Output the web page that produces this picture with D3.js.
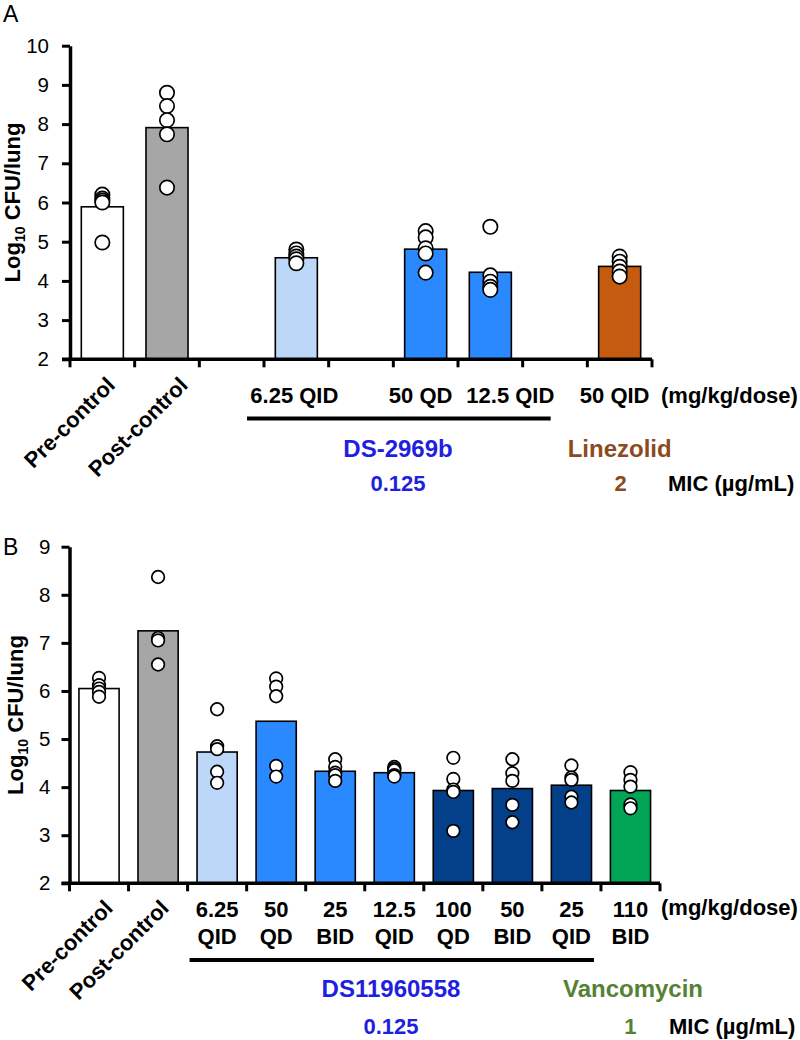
<!DOCTYPE html>
<html>
<head>
<meta charset="utf-8">
<script src="https://cdn.jsdelivr.net/npm/d3@7"></script>
<style>
  body { margin: 0; background: #fff; }
  svg { display: block; font-family: "Liberation Sans", Arial, sans-serif; }
</style>
</head>
<body>
<svg id="chart" width="800" height="1040"></svg>
<script>
// ---------------- DATA ----------------
// Panel A
const categoriesA = ["Pre-control", "Post-control", "gapA1", "6.25 QID", "gapA2", "50 QD", "12.5 QID", "gapA3", "50 QID"];
const meansA = [5.89, 7.91, null, 4.59, null, 4.81, 4.22, null, 4.37];
const pointsA = [
  [6.2, 6.1, 6.05, 6.0, 4.98],
  [8.8, 8.46, 8.1, 7.74, 6.38],
  [],
  [4.8, 4.7, 4.62, 4.55, 4.45],
  [],
  [5.27, 5.11, 4.83, 4.7, 4.21],
  [5.38, 4.14, 3.98, 3.85, 3.77],
  [],
  [4.62, 4.49, 4.36, 4.24, 4.11]
];
const doseLabelsA = [null, null, null, "6.25 QID", null, "50 QD", "12.5 QID", null, "50 QID"];
const yTicksA = [2, 3, 4, 5, 6, 7, 8, 9, 10];

// Panel B
const categoriesB = ["Pre-control", "Post-control", "6.25 QID", "50 QD", "25 BID", "12.5 QID", "100 QD", "50 BID", "25 QID", "110 BID"];
const meansB = [6.05, 7.25, 4.73, 5.37, 4.33, 4.30, 3.93, 3.97, 4.04, 3.93];
const pointsB = [
  [6.27, 6.12, 6.05, 5.98, 5.88],
  [8.37, 7.1, 7.05, 6.55],
  [5.62, 4.85, 4.79, 4.32, 4.09],
  [6.26, 6.09, 5.89, 4.44, 4.22],
  [4.58, 4.42, 4.3, 4.25, 4.13],
  [4.42, 4.38, 4.35, 4.25, 4.22],
  [4.61, 4.17, 3.95, 3.9, 3.09],
  [4.58, 4.29, 4.13, 3.63, 3.27],
  [4.45, 4.2, 4.15, 3.8, 3.68],
  [4.31, 4.15, 4.01, 3.64, 3.56]
];
const doseLine1B = [null, null, "6.25", "50", "25", "12.5", "100", "50", "25", "110"];
const doseLine2B = [null, null, "QID", "QD", "BID", "QID", "QD", "BID", "QID", "BID"];
const yTicksB = [2, 3, 4, 5, 6, 7, 8, 9];

const compoundA = { name: "DS-2969b", mic: "0.125" };
const comparatorA = { name: "Linezolid", mic: "2" };
const compoundB = { name: "DS11960558", mic: "0.125" };
const comparatorB = { name: "Vancomycin", mic: "1" };

// ---------------- STYLES ----------------
const C_WHITE = "#ffffff", C_GRAY = "#a6a6a6", C_LIGHT = "#bdd7f8", C_MID = "#2a89fe",
      C_DARK = "#04408a", C_GREEN = "#02a556", C_ORANGE = "#c55a11";
const colorsA = [C_WHITE, C_GRAY, null, C_LIGHT, null, C_MID, C_MID, null, C_ORANGE];
const colorsB = [C_WHITE, C_GRAY, C_LIGHT, C_MID, C_MID, C_MID, C_DARK, C_DARK, C_DARK, C_GREEN];
const TXT_BLUE = "#1f1fe0", TXT_BROWN = "#8c4a1e", TXT_GREEN = "#548235";
const doseLabelShiftA = [0, 0, 0, -2, 0, -5, 20, 0, -5];
const FS = 22, FS_NAME = 24;

const svg = d3.select("#chart");

function panel(opts) {
  const g = svg.append("g");
  const x = d3.scaleBand().domain(opts.cats).range(opts.xRange).paddingInner(0).paddingOuter(0);
  const y = d3.scaleLinear().domain(opts.yDomain).range(opts.yRange);
  const bw = x.bandwidth();
  const barW = bw * opts.barFrac;

  const data = opts.cats.map((c, i) => ({ c, i, mean: opts.means[i], pts: opts.points[i], color: opts.colors[i] }));

  // bars
  g.selectAll("rect.bar").data(data.filter(d => d.mean != null)).join("rect")
    .attr("class", "bar")
    .attr("x", d => x(d.c) + (bw - barW) / 2)
    .attr("width", barW)
    .attr("y", d => y(d.mean))
    .attr("height", d => y(opts.yDomain[0]) - y(d.mean))
    .attr("fill", d => d.color)
    .attr("stroke", "#000")
    .attr("stroke-width", 1.6);

  // points
  const pts = [];
  data.forEach(d => d.pts.forEach(v => pts.push({ c: d.c, v })));
  g.selectAll("circle.pt").data(pts).join("circle")
    .attr("class", "pt")
    .attr("cx", d => x(d.c) + bw / 2)
    .attr("cy", d => y(d.v))
    .attr("r", opts.r)
    .attr("fill", "#fff")
    .attr("stroke", "#000")
    .attr("stroke-width", 1.7);

  // y axis
  const yAxis = g.append("g")
    .attr("transform", `translate(${opts.xRange[0]},0)`)
    .call(d3.axisLeft(y).tickValues(opts.yTicks).tickSize(8).tickSizeOuter(0).tickPadding(opts.tickPad).tickFormat(d3.format("d")));
  yAxis.select(".domain").attr("stroke-width", 3.5);
  yAxis.selectAll(".tick line").attr("stroke-width", 3);
  yAxis.selectAll(".tick text").attr("font-size", 20.5).attr("font-family", "Liberation Sans, Arial, sans-serif").attr("fill", "#000");

  // x axis: line + ticks at band boundaries
  const y0 = y(opts.yDomain[0]);
  g.append("line")
    .attr("x1", opts.xRange[0] - 8).attr("x2", opts.xRange[1])
    .attr("y1", y0).attr("y2", y0)
    .attr("stroke", "#000").attr("stroke-width", 3.5);
  const bounds = opts.cats.map(c => x(c)).concat([x.range()[1]]);
  g.selectAll("line.xt").data(bounds).join("line")
    .attr("class", "xt")
    .attr("x1", d => d).attr("x2", d => d)
    .attr("y1", y0).attr("y2", y0 + 8)
    .attr("stroke", "#000").attr("stroke-width", 3);

  // y-axis title
  const yMid = (opts.yRange[0] + opts.yRange[1]) / 2;
  const yt = g.append("text")
    .attr("transform", `translate(${opts.yTitleX},${yMid}) rotate(-90)`)
    .attr("text-anchor", "middle")
    .attr("font-size", 22).attr("font-weight", "bold");
  yt.append("tspan").text("Log");
  yt.append("tspan").attr("font-size", 14).attr("dy", 5).text("10");
  yt.append("tspan").attr("dy", -5).text(" CFU/lung");

  // rotated control labels
  ["Pre-control", "Post-control"].forEach((lab, i) => {
    const cx = x(opts.cats[i]) + bw / 2;
    g.append("text")
      .attr("transform", `translate(${cx + opts.rotDx[i]},${y0 + opts.rotDy}) rotate(-45)`)
      .attr("text-anchor", "end")
      .attr("font-size", FS).attr("font-weight", "bold")
      .text(lab);
  });

  return { g, x, y, bw, y0 };
}

function label(g, x, y, txt, opt = {}) {
  return g.append("text").attr("x", x).attr("y", y)
    .attr("text-anchor", opt.anchor || "start")
    .attr("font-size", opt.size || FS).attr("font-weight", "bold")
    .attr("fill", opt.fill || "#000").text(txt);
}

// ---------------- PANEL A ----------------
const A = panel({
  cats: categoriesA, means: meansA, points: pointsA, colors: colorsA,
  xRange: [70, 652], yDomain: [2, 10], yRange: [359.3, 45.7], yTicks: yTicksA,
  barFrac: 0.65, r: 7.2, tickPad: 13, yTitleX: 20, rotDx: [14, 22], rotDy: 27
});
svg.append("text").attr("x", 3).attr("y", 22).attr("font-size", 23).text("A");

A.g.selectAll("text.dose").data(categoriesA.map((c, i) => ({ c, lab: doseLabelsA[i], dx: doseLabelShiftA[i] })).filter(d => d.lab))
  .join("text").attr("class", "dose")
  .attr("x", d => A.x(d.c) + A.bw / 2 + d.dx)
  .attr("y", 403)
  .attr("text-anchor", "middle").attr("font-size", FS).attr("font-weight", "bold")
  .text(d => d.lab);
label(A.g, 661, 403, "(mg/kg/dose)");
A.g.append("line")
  .attr("x1", A.x("6.25 QID") - 17).attr("x2", A.x("12.5 QID") + A.bw + 28)
  .attr("y1", 418.5).attr("y2", 418.5).attr("stroke", "#000").attr("stroke-width", 4);
label(A.g, 398, 457, compoundA.name, { anchor: "middle", fill: TXT_BLUE, size: FS_NAME });
label(A.g, 398, 491, compoundA.mic, { anchor: "middle", fill: TXT_BLUE });
label(A.g, A.x("50 QID") + A.bw / 2, 457, comparatorA.name, { anchor: "middle", fill: TXT_BROWN, size: FS_NAME });
label(A.g, A.x("50 QID") + A.bw / 2 + 1, 491, comparatorA.mic, { anchor: "middle", fill: TXT_BROWN });
label(A.g, 668, 491, "MIC (µg/mL)");

// ---------------- PANEL B ----------------
const B = panel({
  cats: categoriesB, means: meansB, points: pointsB, colors: colorsB,
  xRange: [69.5, 660], yDomain: [2, 9], yRange: [883.3, 546.7], yTicks: yTicksB,
  barFrac: 0.68, r: 6.3, tickPad: 11, yTitleX: 23, rotDx: [15, 12], rotDy: 26
});
svg.append("text").attr("x", 3).attr("y", 555).attr("font-size", 23).text("B");

const doseB = categoriesB.map((c, i) => ({ c, l1: doseLine1B[i], l2: doseLine2B[i] })).filter(d => d.l1);
B.g.selectAll("text.d1").data(doseB).join("text").attr("class", "d1")
  .attr("x", d => B.x(d.c) + B.bw / 2).attr("y", 917)
  .attr("text-anchor", "middle").attr("font-size", FS).attr("font-weight", "bold").text(d => d.l1);
B.g.selectAll("text.d2").data(doseB).join("text").attr("class", "d2")
  .attr("x", d => B.x(d.c) + B.bw / 2).attr("y", 944)
  .attr("text-anchor", "middle").attr("font-size", FS).attr("font-weight", "bold").text(d => d.l2);
label(B.g, 661, 915, "(mg/kg/dose)");
B.g.append("line")
  .attr("x1", B.x("6.25 QID") + 2).attr("x2", B.x("25 QID") + B.bw - 7)
  .attr("y1", 960).attr("y2", 960).attr("stroke", "#000").attr("stroke-width", 4);
label(B.g, 391, 997, compoundB.name, { anchor: "middle", fill: TXT_BLUE, size: FS_NAME });
label(B.g, 391, 1034, compoundB.mic, { anchor: "middle", fill: TXT_BLUE });
label(B.g, 633, 997, comparatorB.name, { anchor: "middle", fill: TXT_GREEN, size: FS_NAME });
label(B.g, B.x("110 BID") + B.bw / 2, 1034, comparatorB.mic, { anchor: "middle", fill: TXT_GREEN });
label(B.g, 669, 1034, "MIC (µg/mL)");
</script>
</body>
</html>
